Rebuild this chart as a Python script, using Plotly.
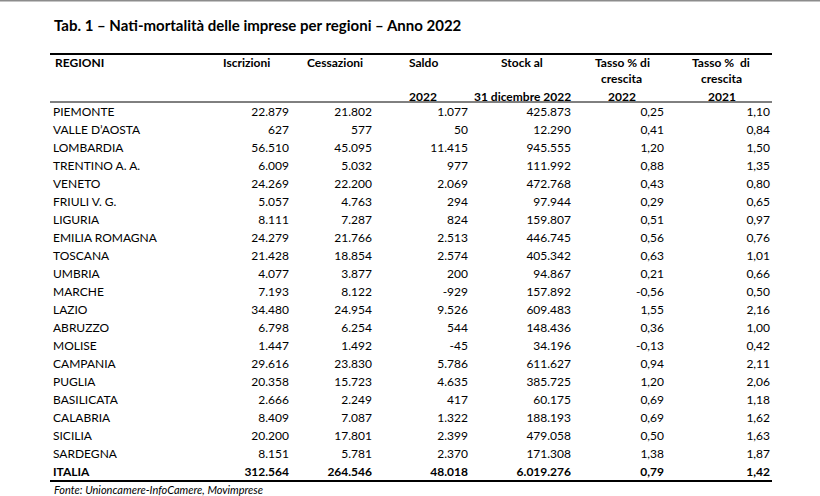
import plotly.graph_objects as go

# ---------------- data ----------------
regioni = ["PIEMONTE", "VALLE D\u2019AOSTA", "LOMBARDIA", "TRENTINO A. A.", "VENETO",
           "FRIULI V. G.", "LIGURIA", "EMILIA ROMAGNA", "TOSCANA", "UMBRIA",
           "MARCHE", "LAZIO", "ABRUZZO", "MOLISE", "CAMPANIA", "PUGLIA",
           "BASILICATA", "CALABRIA", "SICILIA", "SARDEGNA"]
iscrizioni = [22879, 627, 56510, 6009, 24269, 5057, 8111, 24279, 21428, 4077,
              7193, 34480, 6798, 1447, 29616, 20358, 2666, 8409, 20200, 8151]
cessazioni = [21802, 577, 45095, 5032, 22200, 4763, 7287, 21766, 18854, 3877,
              8122, 24954, 6254, 1492, 23830, 15723, 2249, 7087, 17801, 5781]
saldo = [1077, 50, 11415, 977, 2069, 294, 824, 2513, 2574, 200,
         -929, 9526, 544, -45, 5786, 4635, 417, 1322, 2399, 2370]
stock = [425873, 12290, 945555, 111992, 472768, 97944, 159807, 446745, 405342, 94867,
         157892, 609483, 148436, 34196, 611627, 385725, 60175, 188193, 479058, 171308]
tasso_2022 = [0.25, 0.41, 1.20, 0.88, 0.43, 0.29, 0.51, 0.56, 0.63, 0.21,
              -0.56, 1.55, 0.36, -0.13, 0.94, 1.20, 0.69, 0.69, 0.50, 1.38]
tasso_2021 = [1.10, 0.84, 1.50, 1.35, 0.80, 0.65, 0.97, 0.76, 1.01, 0.66,
              0.50, 2.16, 1.00, 0.42, 2.11, 2.06, 1.18, 1.62, 1.63, 1.87]
totale_label = "ITALIA"
totale = {"iscrizioni": 312564, "cessazioni": 264546, "saldo": 48018,
          "stock": 6019276, "tasso_2022": 0.79, "tasso_2021": 1.42}

title = "Tab. 1 \u2013 Nati-mortalit\u00e0 delle imprese per regioni \u2013 Anno 2022"
source = "Fonte: Unioncamere-InfoCamere, Movimprese"

# ---------------- helpers ----------------
def fmt_int(v):
    return f"{v:,}".replace(",", ".")

def fmt_dec(v):
    return f"{v:.2f}".replace(".", ",")

W, H = 820, 496
FIRST_ROW_PX = 112.5
ROW_PX = 18.0
FONT = "Lato, 'Open Sans', sans-serif"
BODY_SIZE = 12

def py(p):  # pixel -> paper y
    return 1 - p / H

n = len(regioni)
rows = list(range(n + 1))

fig = go.Figure()

# region names (left aligned)
fig.add_trace(go.Scatter(
    x=[53] * (n + 1), y=rows, mode="text",
    text=regioni + [f"<b>{totale_label}</b>"],
    textposition="middle right",
    textfont=dict(family=FONT, size=BODY_SIZE, color="#000"),
    hoverinfo="skip", showlegend=False))

columns = [
    (iscrizioni, totale["iscrizioni"], fmt_int, 289),
    (cessazioni, totale["cessazioni"], fmt_int, 372),
    (saldo, totale["saldo"], fmt_int, 468),
    (stock, totale["stock"], fmt_int, 571),
    (tasso_2022, totale["tasso_2022"], fmt_dec, 664),
    (tasso_2021, totale["tasso_2021"], fmt_dec, 770),
]
for vals, tot, f, xr in columns:
    fig.add_trace(go.Scatter(
        x=[xr] * (n + 1), y=rows, mode="text",
        text=[f(v) for v in vals] + [f"<b>{f(tot)}</b>"],
        textposition="middle left",
        textfont=dict(family=FONT, size=BODY_SIZE, color="#000"),
        hoverinfo="skip", showlegend=False))

ann = []
def add_text(x, ypx, text, xanchor="left", size=BODY_SIZE, bold=True, italic=False):
    t = f"<b>{text}</b>" if bold else text
    if italic:
        t = f"<i>{t}</i>"
    ann.append(dict(x=x, y=py(ypx), xref="x", yref="paper", text=t,
                    showarrow=False, xanchor=xanchor, yanchor="middle",
                    font=dict(family=FONT, size=size, color="#000")))

# title
add_text(52, 24.5, title, size=15)
# header row
L1, L2, L3 = 62.5, 78.5, 96
add_text(53, L1, "REGIONI")
add_text(246.5, L1, "Iscrizioni", "center")
add_text(334.5, L1, "Cessazioni", "center")
add_text(407, L1, "Saldo")
add_text(407, L3, "2022")
add_text(522, L1, "Stock al", "center")
add_text(522, L3, "31 dicembre 2022", "center")
add_text(622, L1, "Tasso % di", "center")
add_text(621, L2, "crescita", "center")
add_text(622, L3, "2022", "center")
add_text(721, L1, "Tasso %\u00a0 di", "center")
add_text(721, L2, "crescita", "center")
add_text(722, L3, "2021", "center")
# source
add_text(52, 489.5, source, size=11, bold=False, italic=True)

shapes = [
    dict(type="line", xref="x", yref="paper", x0=0, x1=820, y0=py(0.75), y1=py(0.75),
         line=dict(color="#8c8c8c", width=1.5)),
    dict(type="line", xref="x", yref="paper", x0=50, x1=772, y0=py(54), y1=py(54),
         line=dict(color="#000", width=2.2)),
    dict(type="line", xref="x", yref="paper", x0=50, x1=772, y0=py(102), y1=py(102),
         line=dict(color="#000", width=1)),
    dict(type="line", xref="x", yref="paper", x0=50, x1=772, y0=py(481), y1=py(481),
         line=dict(color="#000", width=2.2)),
]

fig.update_layout(
    width=W, height=H,
    margin=dict(l=0, r=0, t=0, b=0),
    paper_bgcolor="white", plot_bgcolor="white",
    xaxis=dict(range=[0, W], visible=False, fixedrange=True),
    yaxis=dict(range=[(H - FIRST_ROW_PX) / ROW_PX, -FIRST_ROW_PX / ROW_PX],
               visible=False, fixedrange=True),
    annotations=ann, shapes=shapes,
)

fig.write_html("out.html", config={"displayModeBar": False},
               post_script="document.body.style.margin='0';document.body.style.overflow='hidden';")
